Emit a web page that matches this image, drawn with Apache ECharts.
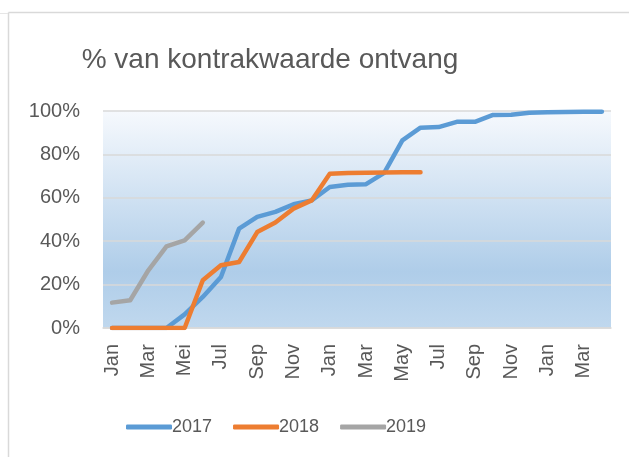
<!DOCTYPE html>
<html>
<head>
<meta charset="utf-8">
<script src="https://cdn.jsdelivr.net/npm/echarts@6/dist/echarts.min.js"></script>
<style>
  html, body { margin: 0; padding: 0; background: #fff; }
  #main { width: 629px; height: 457px; }
</style>
</head>
<body>
<div id="main"></div>
<script>
// maande, Jan 2017 tot Apr 2019
var months = ['Jan', 'Feb', 'Mar', 'Apr', 'Mei', 'Jun', 'Jul', 'Aug', 'Sep', 'Okt', 'Nov', 'Des',
  'Jan', 'Feb', 'Mar', 'Apr', 'May', 'Jun', 'Jul', 'Aug', 'Sep', 'Oct', 'Nov', 'Dec',
  'Jan', 'Feb', 'Mar', 'Apr'];
var data2017 = [0, 0, 0, 0, 6.3, 14.3, 23.5, 45.8, 51.2, 53.5, 57, 58.8, 65, 66, 66.3, 71.5,
  86.5, 92.3, 92.6, 95, 95, 98.2, 98.3, 99.2, 99.4, 99.5, 99.6, 99.7];
var data2018 = [0, 0, 0, 0, 0, 22, 28.9, 30.4, 44.2, 48.6, 55, 58.8, 71.1, 71.4, 71.6, 71.7, 71.8, 71.8];
var data2019 = [11.7, 12.8, 26.6, 37.6, 40.4, 48.6];
var seriesNames = ['2017', '2018', '2019'];
var colors = ['#5b9bd5', '#ed7d31', '#a5a5a5'];

var myChart = echarts.init(document.getElementById('main'));
var txt = '#595959';
var font = 'Liberation Sans';

function mkLine(name, data, color) {
  return {
    name: name,
    type: 'line',
    data: data,
    showSymbol: false,
    symbol: 'none',
    color: color,
    lineStyle: { width: 4.5, color: color, cap: 'round', join: 'round' }
  };
}

var option = {
  animation: false,
  color: colors,
  title: {
    text: '% van kontrakwaarde ontvang',
    left: 265,
    textAlign: 'center',
    top: 41,
    textStyle: { fontFamily: font, fontSize: 28, fontWeight: 'normal', color: txt }
  },
  legend: {
    data: seriesNames,
    left: 121,
    top: 413,
    icon: 'roundRect',
    itemWidth: 46,
    itemHeight: 5,
    itemGap: 21,
    textStyle: { fontFamily: font, fontSize: 18, color: txt, padding: [0, 0, 0, -5] }
  },
  grid: {
    left: 103,
    right: 18,
    top: 111,
    bottom: 129,
    show: true,
    borderWidth: 0,
    backgroundColor: new echarts.graphic.LinearGradient(0, 0, 0, 1, [
      { offset: 0, color: '#f6f9fd' },
      { offset: 0.74, color: '#afcde9' },
      { offset: 1, color: '#c0d8ee' }
    ])
  },
  xAxis: {
    type: 'category',
    data: months,
    boundaryGap: true,
    axisLine: { lineStyle: { color: '#d9d9d9', width: 1.5 } },
    axisTick: { show: false },
    axisLabel: {
      interval: 1,
      rotate: 90,
      margin: 16,
      fontFamily: font,
      fontSize: 20,
      color: txt
    }
  },
  yAxis: {
    type: 'value',
    min: 0,
    max: 100,
    interval: 20,
    axisLine: { show: false },
    axisTick: { show: false },
    axisLabel: {
      formatter: '{value}%',
      margin: 23,
      fontFamily: font,
      fontSize: 20,
      color: txt
    },
    splitLine: { lineStyle: { color: '#d9d9d9', width: 1.5 } }
  },
  graphic: [
    { type: 'line', shape: { x1: 8.5, y1: 12.5, x2: 8.5, y2: 457 }, style: { stroke: '#d9d9d9', lineWidth: 1.5 } },
    { type: 'line', shape: { x1: 8.5, y1: 12.5, x2: 629, y2: 12.5 }, style: { stroke: '#d9d9d9', lineWidth: 1.5 } },
    { type: 'line', shape: { x1: 0, y1: 13.5, x2: 8, y2: 13.5 }, style: { stroke: '#e6e6e6', lineWidth: 1 } }
  ],
  series: [
    mkLine(seriesNames[0], data2017, colors[0]),
    mkLine(seriesNames[1], data2018, colors[1]),
    mkLine(seriesNames[2], data2019, colors[2])
  ]
};
myChart.setOption(option);
</script>
</body>
</html>
